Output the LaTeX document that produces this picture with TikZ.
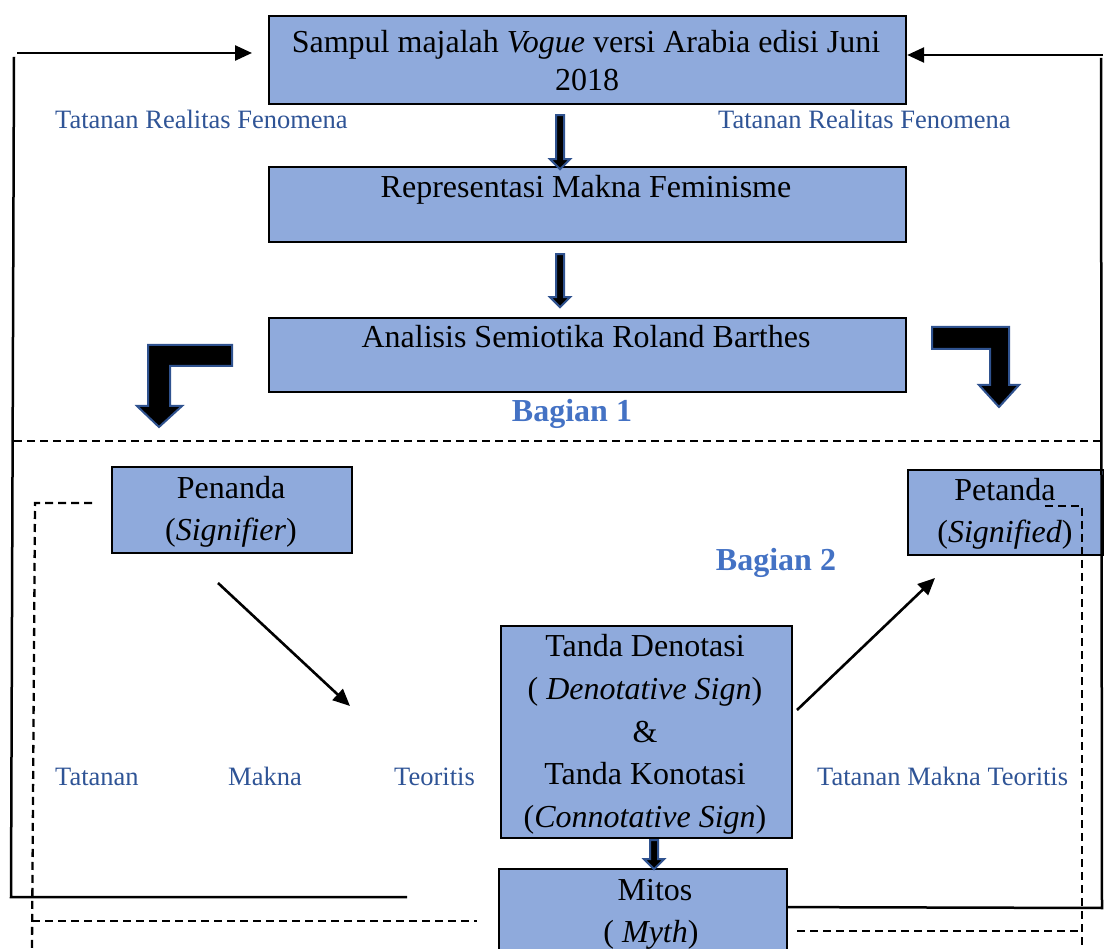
\documentclass[tikz,border=0pt]{standalone}
\usepackage{fontspec}
\setmainfont{Liberation Serif}
\usetikzlibrary{arrows.meta,calc}
\definecolor{boxfill}{RGB}{143,170,220}
\definecolor{labelblue}{RGB}{47,84,150}
\definecolor{partblue}{RGB}{68,114,196}
\definecolor{arrowedge}{RGB}{47,82,143}

% short block arrow pointing down: #1 start coordinate, #2 length
\newcommand{\blockdown}[2]{%
  \draw[blockarrow] (#1) ++(-4,0) -- ++(8,0) -- ++(0,#2-10) -- ++(6,0)
    -- ++(-10,10) -- ++(-10,-10) -- ++(6,0) -- cycle;}

\begin{document}
\begin{tikzpicture}[x=1pt,y=-1pt,
  box/.style={draw=black, line width=2.2pt, fill=boxfill, inner sep=0pt, anchor=north west},
  txt/.style={font=\fontsize{32}{38}\selectfont, anchor=base, inner sep=0pt},
  lbl/.style={font=\fontsize{26.5}{30}\selectfont, text=labelblue, anchor=base west, inner sep=0pt},
  part/.style={font=\fontsize{32}{38}\selectfont\bfseries, text=partblue, anchor=base, inner sep=0pt},
  blockarrow/.style={fill=black, draw=arrowedge, line width=2pt, line join=miter},
  frame/.style={draw=black, line width=2.5pt},
  link/.style={draw=black, line width=2.6pt, -{Triangle[length=17pt,width=15pt]}},
  guide/.style={draw=black, line width=2.3pt, dash pattern=on 8pt off 5pt}
]
\useasboundingbox (0,0) rectangle (1104,949);
\clip (0,0) rectangle (1104,949);

% boxes
\node[box, minimum width=637, minimum height=88] (cover) at (268,15) {};
\node[box, minimum width=637, minimum height=75] (repr) at (268,166) {};
\node[box, minimum width=637, minimum height=74] (analysis) at (268,317) {};
\node[box, minimum width=240, minimum height=86] (signifier) at (111,466) {};
\node[box, minimum width=196, minimum height=85] (signified) at (907,469) {};
\node[box, minimum width=291, minimum height=212] (sign) at (500,625) {};
\node[box, minimum width=288, minimum height=100] (myth) at (498,868) {};

% box texts
\node[txt] (cover1) at (586,53) {Sampul majalah \textit{Vogue} versi Arabia edisi Juni};
\node[txt] (cover2) at (587,91) {2018};
\node[txt] (reprt) at (586,198) {Representasi Makna Feminisme};
\node[txt] (analysist) at (586,348) {Analisis Semiotika Roland Barthes};
\node[txt] (signifier1) at (231,499) {Penanda};
\node[txt] (signifier2) at (231,541) {(\textit{Signifier})};
\node[txt] (signified1) at (1005,501) {Petanda};
\node[txt] (signified2) at (1005,543) {(\textit{Signified})};
\node[txt] (sign1) at (645,656) {Tanda Denotasi};
\node[txt] (sign2) at (645,699) {( \textit{Denotative Sign})};
\node[txt] (sign3) at (645,742) {\&};
\node[txt] (sign4) at (645,784) {Tanda Konotasi};
\node[txt] (sign5) at (645,827) {(\textit{Connotative Sign})};
\node[txt] (myth1) at (655,900) {Mitos};
\node[txt] (myth2) at (651,942) {( \textit{Myth})};

% side labels
\node[lbl] (realL) at (55,129) {Tatanan Realitas Fenomena};
\node[lbl] (realR) at (718,129) {Tatanan Realitas Fenomena};
\node[lbl] (theoL1) at (55,785) {Tatanan};
\node[lbl, anchor=base] (theoL2) at (265,785) {Makna};
\node[lbl, anchor=base east] (theoL3) at (475,785) {Teoritis};
\node[lbl] (theoR) at (817,785) {Tatanan Makna Teoritis};
\node[part] (part1) at (572,422) {Bagian 1};
\node[part] (part2) at (776,570) {Bagian 2};

% block arrows between the stacked boxes
\coordinate (a1) at ($(cover.south)+(-27.5,10)$);
\coordinate (a2) at ($(repr.south)+(-27.5,11)$);
\coordinate (a3) at ($(sign.south)+(7.5,1)$);
\blockdown{a1}{54}
\blockdown{a2}{53}
\blockdown{a3}{29}

% bent block arrows
\draw[blockarrow] (232,345) -- (148,345) -- (148,406) -- (137,406) -- (159,427)
  -- (182,406) -- (170,406) -- (170,366) -- (232,366) -- cycle;
\draw[blockarrow] (932,327) -- (1009,327) -- (1009,385) -- (1019,385) -- (999,407)
  -- (979,385) -- (990,385) -- (990,349) -- (932,349) -- cycle;

% section divider
\draw[guide] (14,441) -- (1104,441);

% diagonal links
\coordinate (d1s) at (218,583);
\coordinate (d1e) at (350,706);
\coordinate (d2s) at (797,710);
\coordinate (d2e) at (935,578);
\draw[link] (d1s) -- (d1e);
\draw[link] (d2s) -- (d2e);

% outer feedback lines
\coordinate (lfree) at (407,897);
\coordinate (ltop) at (17,53);
\draw[frame] (lfree) -- (11,897) -- (14,57);
\draw[frame, -{Triangle[length=17pt,width=15pt]}, shorten >=16pt] (ltop) -- (ltop -| cover.west);
\coordinate (rstart) at ($(myth.east)+(0,-12)$);
\coordinate (rtop) at (1103,55);
\draw[frame] (rstart) -- (1102,908) -- (1101,58);
\draw[frame, -{Triangle[length=17pt,width=15pt]}] (rtop) -- (rtop -| cover.east);

% dashed guides
\coordinate (gl) at (92,503);
\draw[guide] (gl) -- (35,503) -- (32,949);
\draw[guide] (32,921) -- (477,921);
\coordinate (gr) at (1045,506);
\draw[guide] (gr) -- (1082,506) -- (1082,949);
\draw[guide] (797,931) -- (1082,931);
\end{tikzpicture}
\end{document}
